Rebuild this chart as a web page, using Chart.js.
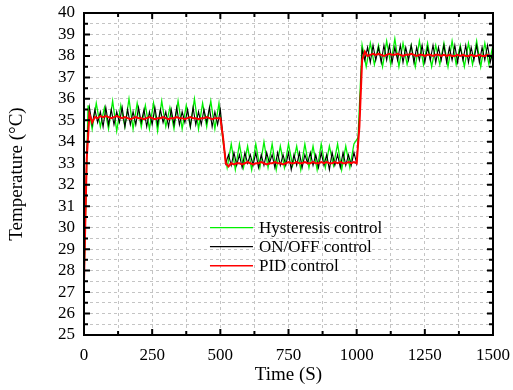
<!DOCTYPE html>
<html>
<head>
<meta charset="utf-8">
<script src="https://cdn.jsdelivr.net/npm/chart.js@4.4.1/dist/chart.umd.min.js"></script>
<style>
  body { margin: 0; background: #fff; }
  canvas { display: block; }
</style>
</head>
<body>
<canvas id="tempChart" width="513" height="390"></canvas>
<script>
// Hysteresis control, sampled every 15 s
const hysteresis = [
  27.5, 35.7,
  34.6, 35.8, 34.7, 35.6, 34.6, 35.9, 34.5, 35.7, 34.7, 36.0,
  34.6, 35.8, 34.7, 35.7, 34.6, 35.8, 34.5, 35.9, 34.7, 35.6,
  34.6, 35.9, 34.6, 35.7, 34.7, 36.0, 34.6, 35.8, 34.7, 35.9,
  34.6, 35.8,
  34.0, 32.8,
  33.9, 32.7, 33.9, 32.8, 33.8, 32.7, 33.9, 32.8, 34.0, 32.8,
  33.9, 32.7, 33.8, 32.8, 33.9, 32.9, 33.8, 32.7, 33.9, 32.8,
  33.8, 32.7, 33.9, 32.8, 33.8, 32.9, 33.9, 32.7, 33.8, 32.8,
  33.9,
  34.2, 38.5,
  37.5, 38.6, 37.6, 38.5, 37.5, 38.7, 37.6, 38.8, 37.5, 38.6,
  37.6, 38.5, 37.5, 38.7, 37.6, 38.6, 37.5, 38.5, 37.6, 38.6,
  37.5, 38.7, 37.6, 38.5, 37.5, 38.6, 37.6, 38.7, 37.5, 38.6,
  37.6, 38.5
];

// ON/OFF control, sampled every 10 s
const onOff = [
  27.5, 33.5, 35.6,
  34.8, 35.5, 34.9, 35.4, 34.7, 35.6, 34.8, 35.5, 34.8, 35.4,
  34.9, 35.6, 34.7, 35.5, 34.8, 35.4, 34.8, 35.6, 34.9, 35.5,
  34.7, 35.4, 34.8, 35.6, 34.8, 35.5, 34.9, 35.4, 34.7, 35.5,
  34.8, 35.6, 34.8, 35.4, 34.9, 35.5, 34.7, 35.6, 34.8, 35.4,
  34.8, 35.5, 34.9, 35.6, 34.7, 35.4, 34.8, 35.5,
  34.2, 33.0,
  33.4, 32.9, 33.5, 32.9, 33.4, 32.8, 33.5, 33.0, 33.4, 32.9,
  33.5, 32.8, 33.4, 32.9, 33.5, 33.0, 33.4, 32.8, 33.5, 32.9,
  33.4, 32.9, 33.5, 32.7, 33.4, 32.9, 33.5, 32.8, 33.4, 33.0,
  33.5, 32.9, 33.4, 32.8, 33.5, 32.9, 33.4, 32.7, 33.5, 32.9,
  33.4, 32.8, 33.5, 32.9, 33.4, 32.9, 33.5, 33.0,
  35.0, 38.3,
  37.8, 38.4, 37.7, 38.5, 37.8, 38.4, 37.7, 38.5, 37.8, 38.5,
  37.7, 38.4, 37.8, 38.5, 37.7, 38.4, 37.8, 38.5, 37.7, 38.4,
  37.8, 38.5, 37.7, 38.4, 37.8, 38.5, 37.7, 38.4, 37.8, 38.5,
  37.7, 38.4, 37.8, 38.5, 37.7, 38.4, 37.8, 38.5, 37.7, 38.4,
  37.8, 38.5, 37.7, 38.4, 37.8, 38.5, 37.7, 38.2
];

// PID control, sampled every 10 s
const pid = [
  27.5, 33.2, 35.3, 34.9,
  35.15, 35.1, 35.2, 35.15, 35.2, 35.15, 35.1, 35.15, 35.2, 35.15,
  35.1, 35.15, 35.1, 35.05, 35.1, 35.15, 35.1, 35.1, 35.05, 35.1,
  35.15, 35.1, 35.05, 35.1, 35.1, 35.15, 35.1, 35.05, 35.1, 35.1,
  35.15, 35.1, 35.1, 35.05, 35.1, 35.15, 35.1, 35.1, 35.05, 35.1,
  35.1, 35.15, 35.1, 35.05, 35.1, 35.1, 35.1,
  34.2, 33.0, 32.85,
  33.0, 32.95, 33.0, 33.0, 32.95, 33.0, 33.05, 33.0, 32.95, 33.0,
  33.0, 33.05, 33.0, 32.95, 33.0, 33.0, 33.05, 33.0, 33.0, 32.95,
  33.0, 33.05, 33.0, 33.0, 33.05, 33.0, 33.0, 33.05, 33.0, 33.0,
  33.05, 33.0, 33.0, 33.05, 33.0, 33.05, 33.0, 33.0, 33.05, 33.0,
  33.05, 33.0, 33.0, 33.05, 33.0, 33.05, 33.0,
  34.7, 37.8, 38.2,
  38.0, 38.05, 38.1, 38.05, 38.1, 38.05, 38.0, 38.05, 38.1, 38.05,
  38.05, 38.1, 38.05, 38.0, 38.05, 38.05, 38.1, 38.05, 38.0, 38.05,
  38.05, 38.0, 38.05, 38.05, 38.0, 38.05, 38.05, 38.0, 38.05, 38.0,
  38.05, 38.0, 38.0, 38.05, 38.0, 38.05, 38.0, 38.0, 38.05, 38.0,
  38.0, 38.05, 38.0, 38.0, 38.05, 38.0, 38.0
];

const seriesNames = ['Hysteresis control', 'ON/OFF control', 'PID control'];
const seriesColors = ['#00f000', '#000000', '#ff0000'];

const FONT = "'Liberation Serif', 'Times New Roman', serif";

const toPoints = (vals, step) => vals.map((v, i) => ({ x: i * step, y: v }));

// Frame and inward ticks on all four sides, plus the legend inside the plot
const framePlugin = {
  id: 'frame',
  afterDatasetsDraw(chart) {
    const { ctx, chartArea: a, scales: { x, y } } = chart;
    ctx.save();
    ctx.strokeStyle = '#000';
    ctx.lineWidth = 2;
    ctx.beginPath();
    x.ticks.forEach(t => {
      const px = x.getPixelForValue(t.value);
      const len = t.value % 250 === 0 ? 6 : 4;
      ctx.moveTo(px, a.bottom); ctx.lineTo(px, a.bottom - len);
      ctx.moveTo(px, a.top); ctx.lineTo(px, a.top + len);
    });
    y.ticks.forEach(t => {
      const py = y.getPixelForValue(t.value);
      const len = Number.isInteger(t.value) ? 6 : 4;
      ctx.moveTo(a.left, py); ctx.lineTo(a.left + len, py);
      ctx.moveTo(a.right, py); ctx.lineTo(a.right - len, py);
    });
    ctx.stroke();
    ctx.strokeRect(a.left, a.top, a.right - a.left, a.bottom - a.top);

    const lx = x.getPixelForValue(462);
    const ly = y.getPixelForValue(30.0);
    ctx.font = '17px ' + FONT;
    ctx.textBaseline = 'middle';
    ctx.fillStyle = '#000';
    seriesNames.forEach((name, i) => {
      const yy = ly + i * 19;
      ctx.strokeStyle = seriesColors[i];
      ctx.lineWidth = i === 2 ? 1.5 : 1.2;
      ctx.beginPath();
      ctx.moveTo(lx, yy); ctx.lineTo(lx + 43, yy);
      ctx.stroke();
      ctx.fillText(name, lx + 49, yy + 1);
    });
    ctx.restore();
  }
};

new Chart(document.getElementById('tempChart'), {
  type: 'line',
  data: {
    datasets: [
      { label: seriesNames[0], data: toPoints(hysteresis, 15), borderColor: seriesColors[0], borderWidth: 1.3, order: 3 },
      { label: seriesNames[1], data: toPoints(onOff, 10), borderColor: seriesColors[1], borderWidth: 1.1, order: 2 },
      { label: seriesNames[2], data: toPoints(pid, 10), borderColor: seriesColors[2], borderWidth: 2, order: 1 }
    ]
  },
  options: {
    responsive: false,
    animation: false,
    events: [],
    layout: { padding: { top: 13, right: 20, left: 0, bottom: 0 } },
    elements: { point: { radius: 0 }, line: { tension: 0, fill: false } },
    plugins: { legend: { display: false }, tooltip: { enabled: false } },
    scales: {
      x: {
        type: 'linear', min: 0, max: 1500,
        afterFit: s => { s.height = 55; s.paddingLeft = 0; s.paddingRight = 0; },
        grid: { color: '#c4c4c4', lineWidth: 1, drawTicks: false },
        border: { display: false, dash: [3, 3] },
        ticks: {
          stepSize: 125, autoSkip: false, maxRotation: 0, padding: 10,
          color: '#000', font: { family: FONT, size: 17 },
          callback: v => (v % 250 === 0 ? v : '')
        },
        title: { display: true, text: 'Time (S)', color: '#000', font: { family: FONT, size: 19 }, padding: { top: 0, bottom: 4 } }
      },
      y: {
        min: 25, max: 40,
        afterFit: s => { s.width = 84; s.paddingTop = 0; s.paddingBottom = 0; },
        grid: { color: '#c4c4c4', lineWidth: 1, drawTicks: false },
        border: { display: false, dash: [3, 3] },
        ticks: {
          stepSize: 0.5, autoSkip: false, padding: 9,
          color: '#000', font: { family: FONT, size: 17 },
          callback: v => (Number.isInteger(v) ? v : '')
        },
        title: { display: true, text: 'Temperature (°C)', color: '#000', font: { family: FONT, size: 19 }, padding: { top: 6, bottom: 0 } }
      }
    }
  },
  plugins: [framePlugin]
});
</script>
</body>
</html>
